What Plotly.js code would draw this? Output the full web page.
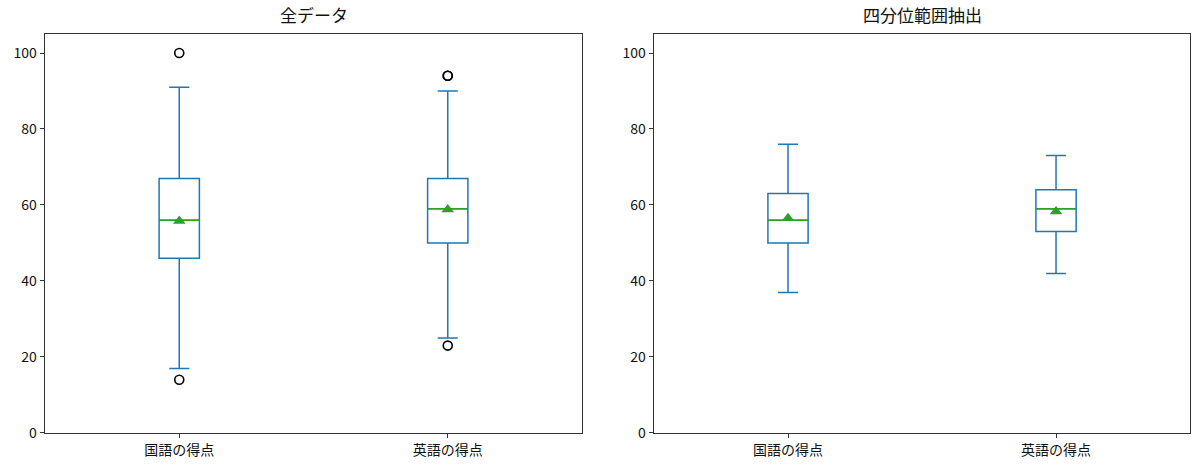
<!DOCTYPE html>
<html>
<head>
<meta charset="utf-8">
<script src="https://cdn.plot.ly/plotly-3.0.1.min.js"></script>
<style>html,body{margin:0;padding:0;background:#fff}#chart{width:1200px;height:469px}</style>
</head>
<body>
<div id="chart"></div>
<script>
// ---- data ----
const categories = ['国語の得点', '英語の得点'];
const titles = ['全データ', '四分位範囲抽出'];

// 全データ
const allLower  = [17, 25];
const allQ1     = [46, 50];
const allMedian = [56, 59];
const allQ3     = [67, 67];
const allUpper  = [91, 90];
const allMean   = [55.8, 58.8];
const allOutliersJa = [100, 14];
const allOutliersEn = [94, 94, 23];

// 四分位範囲抽出
const iqrLower  = [37, 42];
const iqrQ1     = [50, 53];
const iqrMedian = [56, 59];
const iqrQ3     = [63, 64];
const iqrUpper  = [76, 73];
const iqrMean   = [56.5, 58.3];

const yTicks = [0, 20, 40, 60, 80, 100];

// ---- styles ----
const BLUE = '#1f77b4', GREEN = '#2ca02c';
const FONT = 'Noto Sans CJK JP, sans-serif';
const NUMFONT = 'Liberation Sans Narrow, Noto Sans CJK JP, sans-serif';

function boxTraces(xa, ya, lower, q1, med, q3, upper, mean) {
  const common = {type: 'box', x: categories, xaxis: xa, yaxis: ya, width: 0.15,
    whiskerwidth: 0.5, boxpoints: false, hoverinfo: 'skip', showlegend: false};
  return [
    Object.assign({}, common, {q1: q1, median: med, q3: q3, lowerfence: lower, upperfence: upper,
      line: {color: BLUE, width: 1.5}, fillcolor: 'rgba(0,0,0,0)'}),
    Object.assign({}, common, {q1: med, median: med, q3: med, lowerfence: med, upperfence: med,
      whiskerwidth: 0, line: {color: GREEN, width: 1.5}, fillcolor: 'rgba(0,0,0,0)'}),
    {type: 'scatter', mode: 'markers', x: categories, y: mean, xaxis: xa, yaxis: ya,
      marker: {symbol: 'triangle-up', size: 11, color: GREEN}, hoverinfo: 'skip', showlegend: false}
  ];
}

function outlierTrace(xa, ya, cat, vals) {
  return {type: 'scatter', mode: 'markers', x: vals.map(() => cat), y: vals, xaxis: xa, yaxis: ya,
    marker: {symbol: 'circle-open', size: 9, color: '#000', line: {width: 1.6, color: '#000'}},
    hoverinfo: 'skip', showlegend: false};
}

const data = []
  .concat(boxTraces('x', 'y', allLower, allQ1, allMedian, allQ3, allUpper, allMean))
  .concat([outlierTrace('x', 'y', categories[0], allOutliersJa),
           outlierTrace('x', 'y', categories[1], allOutliersEn)])
  .concat(boxTraces('x2', 'y2', iqrLower, iqrQ1, iqrMedian, iqrQ3, iqrUpper, iqrMean));

function xAxis(domain, anchor) {
  return {domain: domain, anchor: anchor, type: 'category', range: [-0.5, 1.5],
    showline: true, mirror: true, linecolor: '#333', linewidth: 1.3, showgrid: false, zeroline: false,
    ticks: 'outside', ticklen: 4, tickcolor: '#333', tickfont: {family: FONT, size: 14, color: '#111'}};
}
function yAxis(anchor) {
  return {domain: [0.0768, 0.9275], anchor: anchor, range: [0, 105], tickvals: yTicks,
    showline: true, mirror: true, linecolor: '#333', linewidth: 1.3, showgrid: false, zeroline: false,
    ticks: 'outside', ticklen: 4, tickcolor: '#333', tickfont: {family: NUMFONT, size: 14, color: '#111'}};
}

const layout = {
  width: 1200, height: 469,
  margin: {l: 0, r: 0, t: 0, b: 0},
  paper_bgcolor: '#fff', plot_bgcolor: '#fff',
  boxmode: 'overlay',
  xaxis: xAxis([0.0375, 0.485], 'y'),
  yaxis: yAxis('x'),
  xaxis2: xAxis([0.545, 0.9917], 'y2'),
  yaxis2: yAxis('x2'),
  annotations: [
    {text: titles[0], xref: 'paper', yref: 'paper', x: (0.0375 + 0.485) / 2, y: 0.9275, yshift: 5,
      xanchor: 'center', yanchor: 'bottom', showarrow: false, font: {family: FONT, size: 17, color: '#111'}},
    {text: titles[1], xref: 'paper', yref: 'paper', x: (0.545 + 0.9917) / 2, y: 0.9275, yshift: 5,
      xanchor: 'center', yanchor: 'bottom', showarrow: false, font: {family: FONT, size: 17, color: '#111'}}
  ]
};

Plotly.newPlot('chart', data, layout, {staticPlot: true});
</script>
</body>
</html>
